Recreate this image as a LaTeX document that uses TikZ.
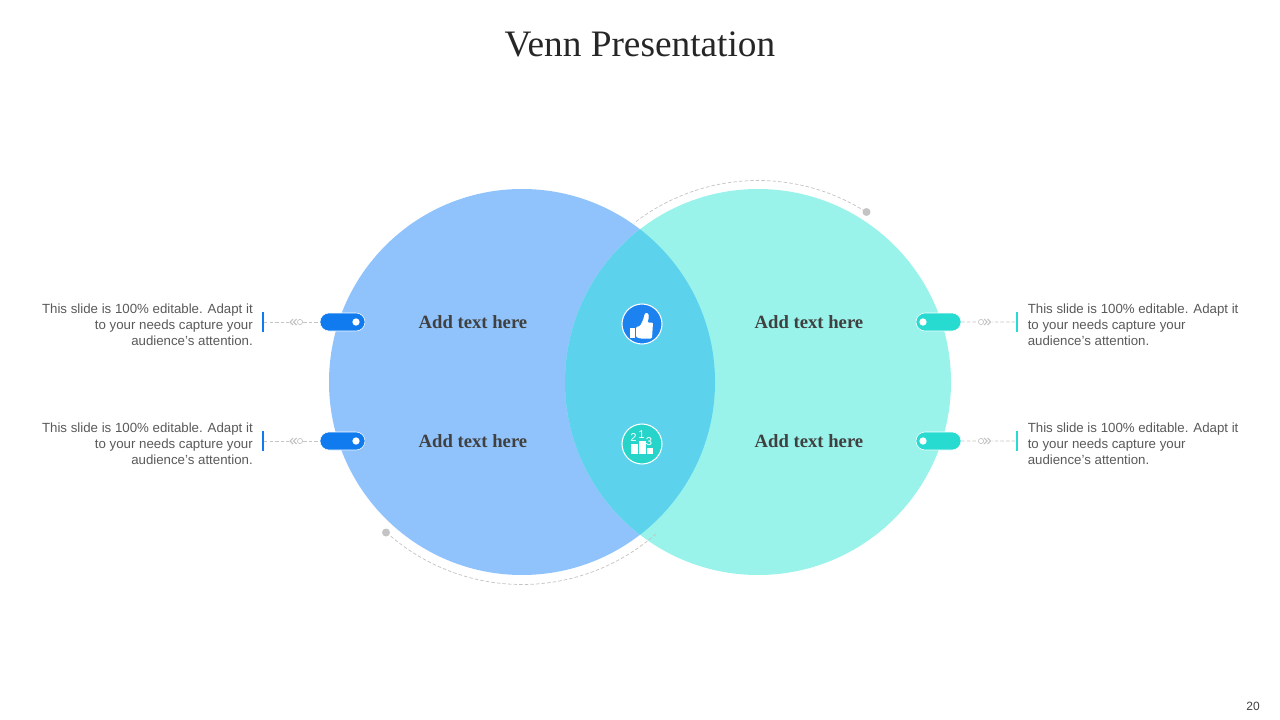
\documentclass[tikz,border=0pt]{standalone}
\usepackage{fontspec}
\usetikzlibrary{shapes.misc}
\setmainfont{Liberation Sans}
\newfontfamily\serifface{Liberation Serif}
\definecolor{leftc}{HTML}{90C3FB}
\definecolor{rightc}{HTML}{99F3EB}
\definecolor{midc}{HTML}{5DD2EC}
\definecolor{blue1}{HTML}{0F7BEF}
\definecolor{teal1}{HTML}{28DBD0}
\definecolor{dash1}{HTML}{C4C4C4}
\tikzset{
  x=0.75pt,y=-0.75pt,
  venn/.style={circle,minimum size=289.5pt,inner sep=0pt,outer sep=0pt},
  pill/.style={rounded rectangle,minimum width=33.75pt,minimum height=13.5pt,inner sep=0pt,draw=white,line width=0.4pt},
  bar/.style={minimum width=1.5pt,minimum height=15pt,inner sep=0pt,outer sep=0pt},
  conn/.style={draw=dash1,line width=0.55pt,dash pattern=on 2.6pt off 1.6pt},
  glyph/.style={draw=dash1,line width=0.8pt},
  desc/.style={font=\fontsize{9.95}{12}\selectfont,text=black!65,inner sep=0pt},
  head/.style={font=\serifface\bfseries\fontsize{14}{16}\selectfont,text=black!75,inner sep=0pt},
  enddot/.style={circle,fill=dash1,minimum size=6pt,inner sep=0pt},
  pin/.style={circle,fill=white,minimum size=5.5pt,inner sep=0pt},
  badge/.style={circle,minimum size=30pt,inner sep=0pt,draw=white,line width=0.8pt},
  digit/.style={inner sep=0pt,text=white,font=\fontsize{8.5}{8.5}\selectfont},
}
\begin{document}
\begin{tikzpicture}
\useasboundingbox (0,0) rectangle (1280,720);
\node[inner sep=0pt,font=\serifface\fontsize{28}{32}\selectfont,text=black!85] (title) at (640,44) {Venn Presentation};
\node[venn,fill=leftc] (L) at (522,382) {};
\node[venn,fill=rightc] (R) at (758,382) {};
\begin{scope}
  \clip (522,382) circle [radius=193];
  \fill[midc] (758,382) circle [radius=193];
\end{scope}
% dashed arcs
\node[enddot] (dotT) at (866.5,212) {};
\node[enddot] (dotB) at (386,532.5) {};
\draw[conn] plot[smooth,domain=57.8:128,samples=40] ({758+201.5*cos(\x)},{382-201.5*sin(\x)});
\draw[conn] plot[smooth,domain=228:312,samples=40] ({522+202.5*cos(\x)},{382-202.5*sin(\x)});
% pills and bars
\foreach \n/\y in {a/322,b/441}{
  \node[bar,fill=blue1] (bl\n) at (263,\y) {};
  \node[pill,fill=blue1] (pl\n) at (342.5,\y) {};
  \node[pin] (pinl\n) at (356,\y) {};
  \draw[conn] (bl\n) -- (pl\n);
  \node[bar,fill=teal1] (br\n) at (1017,\y) {};
  \node[pill,fill=teal1] (pr\n) at (938.5,\y) {};
  \node[pin] (pinr\n) at (923,\y) {};
  \draw[conn] (pr\n) -- (br\n);
  % small connector ornaments
  \fill[white] (289,\y-5) rectangle (303,\y+5);
  \draw[glyph] (293,\y-3) -- (290,\y) -- (293,\y+3);
  \draw[glyph] (296.5,\y-3) -- (293.5,\y) -- (296.5,\y+3);
  \draw[glyph,line width=0.5pt] (300,\y) circle [radius=2.6];
  \fill[white] (977.5,\y-5) rectangle (991.5,\y+5);
  \draw[glyph,line width=0.5pt] (981,\y) circle [radius=2.6];
  \draw[glyph] (984,\y-3) -- (987,\y) -- (984,\y+3);
  \draw[glyph] (987.5,\y-3) -- (990.5,\y) -- (987.5,\y+3);
}
% descriptions
\foreach \n/\y in {a/325,b/444}{
  \node[desc,anchor=east,align=right] (tl\n) at (253,\y) {This slide is 100\% editable. Adapt it\\to your needs capture your\\audience's attention.};
  \node[desc,anchor=west,align=left] (tr\n) at (1027.5,\y) {This slide is 100\% editable. Adapt it\\to your needs capture your\\audience's attention.};
}
% headings
\node[head] (h1) at (473,322) {Add text here};
\node[head] (h2) at (809,322) {Add text here};
\node[head] (h3) at (473,441) {Add text here};
\node[head] (h4) at (809,441) {Add text here};
% badges
\node[badge,fill=blue1!95!white] (thumb) at (642,324) {};
\fill[white] (630,328) rectangle (635,338);
\fill[white,rounded corners=0.8pt] (636,327) -- (640,326) -- (643,320) -- (645,313) -- (648,313) -- (649,317) -- (647.5,322.5) -- (653,322.5) -- (652,338.5) -- (640,338.5) -- (636,337) -- cycle;
\node[badge,fill=teal1!97!black] (podium) at (642,444) {};
\fill[white] (630.5,444) rectangle (637.8,453.5);
\fill[white] (639,441) rectangle (645.8,453.5);
\fill[white] (647,447.5) rectangle (652.5,453.5);
\node[digit] (n2) at (633.5,438) {2};
\node[digit] (n1) at (641.5,435) {1};
\node[digit] (n3) at (649,442) {3};
\node[inner sep=0pt,font=\fontsize{9}{11}\selectfont,text=black!75] (page) at (1253,706) {20};
\end{tikzpicture}
\end{document}
